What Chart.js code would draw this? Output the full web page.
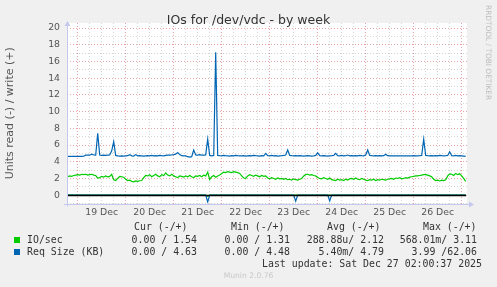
<!DOCTYPE html>
<html><head><meta charset="utf-8">
<script src="https://cdn.jsdelivr.net/npm/chart.js@4.4.1/dist/chart.umd.min.js"></script>
<style>
html,body{margin:0;padding:0;background:#f0f0f0;}
#wrap{position:relative;width:497px;height:287px;overflow:hidden;background:#f0f0f0;}
canvas{position:absolute;left:0;top:0;}
.m{position:absolute;white-space:pre;font-family:"DejaVu Sans Mono",monospace;font-size:9.9px;line-height:12px;color:#333;}
.r{text-align:right;}
.sw{position:absolute;width:6px;height:6px;}
</style></head>
<body><div id="wrap">
<canvas id="c" width="497" height="287"></canvas>
<div style="position:absolute;left:0;width:497px;top:12px;text-align:center;font-family:'DejaVu Sans',sans-serif;font-size:12.5px;line-height:15px;color:#333;">IOs for /dev/vdc - by week</div>
<div style="position:absolute;left:482px;top:5px;writing-mode:vertical-rl;font-family:'DejaVu Sans',sans-serif;font-size:7.4px;line-height:12px;color:#bdbdbd;">RRDTOOL / TOBI OETIKER</div>
<div id="legend"></div>
<div style="position:absolute;left:0;width:497px;top:271px;text-align:center;font-family:'DejaVu Sans',sans-serif;font-size:7.6px;line-height:10px;color:#c8c8c8;">Munin 2.0.76</div>
</div>
<script>
// ---------- data ----------
const startHour = -5;               // first sample, hours relative to 19 Dec 00:00
const dayLabels = ['19 Dec','20 Dec','21 Dec','22 Dec','23 Dec','24 Dec','25 Dec','26 Dec'];
const dayLabelHours = [12,36,60,84,108,132,156,180];
const yTickValues = [-1,0,1,2,3,4,5,6,7,8,9,10,11,12,13,14,15,16,17,18,19,20];

// IO/sec write (+), hourly samples
const ioWrite = [
 2.2,2.3,2.25,2.35,2.4,2.45,2.4,2.5,2.45,
 2.5,2.4,2.45,2.5,2.4,2.35,
 2.05,2.1,
 2.25,2.15,2.3,2.2,2.25,2.5,
 1.85,1.75,2.0,
 2.25,2.2,2.15,
 1.9,1.75,1.8,
 1.65,1.6,1.7,1.65,1.72,1.75,
 2.1,2.35,
 2.3,2.45,2.2,2.35,2.5,2.3,2.2,2.45,2.35,2.65,2.4,2.3,2.5,2.3,
 2.2,2.1,2.3,2.25,2.15,2.3,2.2,2.35,2.2,2.1,2.3,2.25,2.35,2.2,2.4,2.3,
 2.75,1.85,
 2.2,2.35,2.15,2.3,2.4,
 2.6,2.75,2.7,2.8,2.75,2.7,2.8,2.75,2.7,2.6,
 2.3,2.05,2.0,
 2.3,2.45,2.35,2.25,2.4,2.3,2.2,2.35,2.25,2.3,
 2.05,1.95,2.1,2.0,1.9,2.05,1.95,2.0,1.9,2.0,
 1.85,1.9,1.8,1.95,1.85,1.8,1.9,2.0,
 2.3,2.45,2.5,2.4,2.45,2.35,2.3,
 2.1,2.0,1.95,2.1,2.0,1.9,2.05,1.85,
 1.8,1.75,1.9,1.8,1.85,1.75,1.9,1.8,1.95,
 2.0,1.9,2.05,1.9,1.85,2.0,1.9,1.8,
 1.75,1.85,1.8,1.9,1.75,1.85,1.8,1.9,1.85,1.8,1.9,1.95,
 2.0,1.9,2.05,2.0,2.1,1.95,2.0,2.1,2.05,2.15,2.2,
 2.25,2.3,2.3,2.35,2.4,2.45,2.45,2.4,2.3,2.2,
 1.9,1.75,1.8,1.7,1.8,1.75,1.85,
 2.3,2.55,2.5,2.35,2.6,2.45,2.55,2.3,
 2.0,1.65
];

// Req Size (KB) write (+), hourly samples
const reqWrite = [
 4.63,4.63,4.63,4.63,4.63,4.63,4.63,4.63,4.65,
 4.78,4.8,4.78,4.9,4.8,4.78,
 7.4,
 4.8,4.75,4.78,4.75,4.78,4.8,
 5.3,6.4,4.75,
 4.7,4.68,4.7,4.68,4.7,4.72,4.85,4.7,4.68,4.85,4.7,4.72,4.7,4.68,4.7,4.72,
 4.7,4.75,4.7,4.72,4.7,4.75,4.72,4.7,4.75,4.78,4.8,4.82,4.85,4.9,
 5.1,
 4.85,4.72,4.7,4.7,4.6,4.55,4.6,
 5.4,
 4.82,4.8,4.85,4.78,4.8,4.82,
 6.7,
 4.75,4.7,4.75,
 17.1,
 4.75,4.72,4.7,4.75,4.72,4.7,4.68,4.72,4.7,4.75,4.72,4.7,4.7,4.72,4.68,4.7,4.72,4.7,4.75,4.72,4.7,4.68,4.72,4.7,
 5.0,
 4.72,4.7,4.75,4.7,4.72,4.68,4.7,4.72,4.75,4.8,
 5.4,
 4.75,4.72,4.7,4.72,4.7,4.72,4.7,4.68,4.7,4.72,4.7,4.68,4.7,4.75,
 5.07,
 4.72,4.7,4.72,4.7,4.68,4.7,4.72,4.75,
 5.0,
 4.72,4.7,4.75,4.7,4.72,4.8,4.7,4.72,4.7,4.72,4.7,4.75,4.72,4.7,4.8,
 5.4,
 4.75,4.72,4.7,4.72,4.7,4.72,4.7,4.72,4.9,4.72,4.7,4.7,4.7,4.7,4.7,4.7,4.7,4.7,4.7,4.7,4.7,4.7,4.72,4.7,4.7,4.72,4.75,
 6.7,
 4.75,4.72,4.7,4.72,4.7,4.72,4.7,4.75,4.72,4.7,4.72,4.75,
 5.2,
 4.72,4.7,4.75,4.7,4.72,4.7,4.68,4.63
];

// read (-) series: only the non-zero stretches, as [hour] / [value]
const ioReadHours  = [-5, 64, 65, 66, 194];
const ioReadValues = [0, 0, -0.15, 0, 0];
const reqReadHours  = [-5, 64, 65, 66, 108, 109, 110, 125, 126, 127, 194];
const reqReadValues = [0, 0, -0.8, 0, 0, -0.72, 0, 0, -0.68, 0, 0];

// legend table
const legendHeaders = ['Cur (-/+)','Min (-/+)','Avg (-/+)','Max (-/+)'];
const legendRows = [
  {name:'IO/sec',        color:'#00cc00', vals:['0.00 / 1.54','0.00 / 1.31','288.88u/ 2.12','568.01m/ 3.11']},
  {name:'Req Size (KB)', color:'#0066b3', vals:['0.00 / 4.63','0.00 / 4.48','5.40m/ 4.79','3.99 /62.06']}
];
const lastUpdate = 'Last update: Sat Dec 27 02:00:37 2025';

// ---------- build ----------
const hours = ioWrite.map((_, i) => startHour + i);
const toXY = (xs, ys) => xs.map((x, i) => ({x: x, y: ys[i]}));
const xMin = -5.35, xMax = 194.65;
const gridHours = [];
for (let h = 0; h <= 192; h += 6) gridHours.push(h);

const GREEN = '#00cc00', BLUE = '#0066b3';
const MAJOR = '#e8a4a4', MINOR = '#d6d6d6', AXIS = '#c4c8ee';

function line(label, data, color, order) {
  return {label, data, borderColor: color, backgroundColor: color, borderWidth: 1.2,
    pointRadius: 0, tension: 0, fill: false, order, parsing: true};
}

const axesPlugin = {
  id: 'munin',
  beforeDraw(chart) {
    const a = chart.chartArea, ctx = chart.ctx;
    ctx.save(); ctx.fillStyle = '#ffffff';
    ctx.fillRect(a.left, a.top, a.right - a.left, a.bottom - a.top);
    ctx.restore();
  },
  afterDatasetsDraw(chart) {
    const a = chart.chartArea, ctx = chart.ctx, y = chart.scales.y;
    const y0 = Math.round(y.getPixelForValue(0)) + 0.5;
    ctx.save();
    ctx.strokeStyle = '#000'; ctx.lineWidth = 1.5;
    ctx.beginPath(); ctx.moveTo(a.left, y0); ctx.lineTo(a.right - 1, y0); ctx.stroke();
    // axes with arrows
    ctx.strokeStyle = AXIS; ctx.fillStyle = AXIS; ctx.lineWidth = 1;
    const xb = Math.round(a.bottom) + 0.5, xl = Math.round(a.left) + 0.5;
    ctx.beginPath(); ctx.moveTo(a.left - 3, xb); ctx.lineTo(a.right + 3, xb); ctx.stroke();
    ctx.beginPath(); ctx.moveTo(a.right + 2, xb - 3); ctx.lineTo(a.right + 7, xb); ctx.lineTo(a.right + 2, xb + 3); ctx.closePath(); ctx.fill();
    ctx.beginPath(); ctx.moveTo(xl, a.bottom + 3); ctx.lineTo(xl, a.top + 2); ctx.stroke();
    ctx.beginPath(); ctx.moveTo(xl - 3, a.top + 3); ctx.lineTo(xl, a.top - 2); ctx.lineTo(xl + 3, a.top + 3); ctx.closePath(); ctx.fill();
    ctx.restore();
  }
};

new Chart(document.getElementById('c'), {
  type: 'line',
  data: {
    datasets: [
      line('Req Size (KB) write', toXY(hours, reqWrite), BLUE, 1),
      line('Req Size (KB) read', toXY(reqReadHours, reqReadValues), BLUE, 2),
      line('IO/sec write', toXY(hours, ioWrite), GREEN, 3),
      line('IO/sec read', toXY(ioReadHours, ioReadValues), GREEN, 4)
    ]
  },
  plugins: [axesPlugin],
  options: {
    responsive: false, animation: false, devicePixelRatio: 1,
    layout: {padding: {left: 0, top: 23, right: 30, bottom: 63.5}},
    plugins: {legend: {display: false}, tooltip: {enabled: false}, title: {display: false}},
    scales: {
      x: {
        type: 'linear', position: 'bottom', min: xMin, max: xMax, weight: 0,
        afterBuildTicks: ax => { ax.ticks = gridHours.map(v => ({value: v})); },
        ticks: {display: false},
        grid: {color: c => (c.tick && c.tick.value % 24 === 0) ? MAJOR : MINOR, drawTicks: false, lineWidth: 1},
        border: {display: false, dash: [1, 2]},
        afterFit: ax => { ax.height = 0; }
      },
      x2: {
        type: 'linear', position: 'bottom', min: xMin, max: xMax, weight: 1,
        afterBuildTicks: ax => { ax.ticks = dayLabelHours.map(v => ({value: v})); },
        ticks: {callback: (v, i) => dayLabels[i], autoSkip: false, maxRotation: 0, padding: 4,
          color: '#555', font: {family: 'DejaVu Sans', size: 9.3}},
        grid: {display: false, drawTicks: false},
        border: {display: false},
        afterFit: ax => { ax.height = 20; }
      },
      y: {
        type: 'linear', min: -1, max: 20.6,
        afterBuildTicks: ax => { ax.ticks = yTickValues.map(v => ({value: v})); },
        ticks: {callback: v => (v >= 0 && v % 2 === 0) ? String(v) : '', autoSkip: false, padding: 7,
          color: '#555', font: {family: 'DejaVu Sans', size: 9.3}},
        grid: {color: c => (c.tick && c.tick.value >= 0 && c.tick.value % 2 === 0) ? MAJOR : MINOR, drawTicks: false, lineWidth: 1},
        border: {display: false, dash: [1, 2]},
        title: {display: true, text: 'Units read (-) / write (+)', color: '#555',
          font: {family: 'DejaVu Sans', size: 11}, padding: {top: 4, bottom: 0}},
        afterFit: ax => { ax.width = 67; }
      }
    }
  }
});

// ---------- legend (text) ----------
const lg = document.getElementById('legend');
function addText(txt, left, top, rightEdge) {
  const d = document.createElement('div');
  d.className = 'm';
  d.textContent = txt;
  d.style.top = top + 'px';
  if (rightEdge !== undefined) { d.style.right = (497 - rightEdge) + 'px'; }
  else { d.style.left = left + 'px'; }
  lg.appendChild(d);
}
const headerLeft = [134, 231, 327, 423];
const colRight = [197, 290, 384, 477];
legendHeaders.forEach((h, i) => addText(h, headerLeft[i], 221));
legendRows.forEach((r, ri) => {
  const top = 234 + ri * 12;
  const sw = document.createElement('div');
  sw.className = 'sw'; sw.style.left = '14px'; sw.style.top = (top + 3) + 'px'; sw.style.background = r.color;
  lg.appendChild(sw);
  addText(r.name, 27, top);
  r.vals.forEach((v, i) => addText(v, 0, top, colRight[i]));
});
addText(lastUpdate, 0, 258, 482);
</script>
</body></html>
